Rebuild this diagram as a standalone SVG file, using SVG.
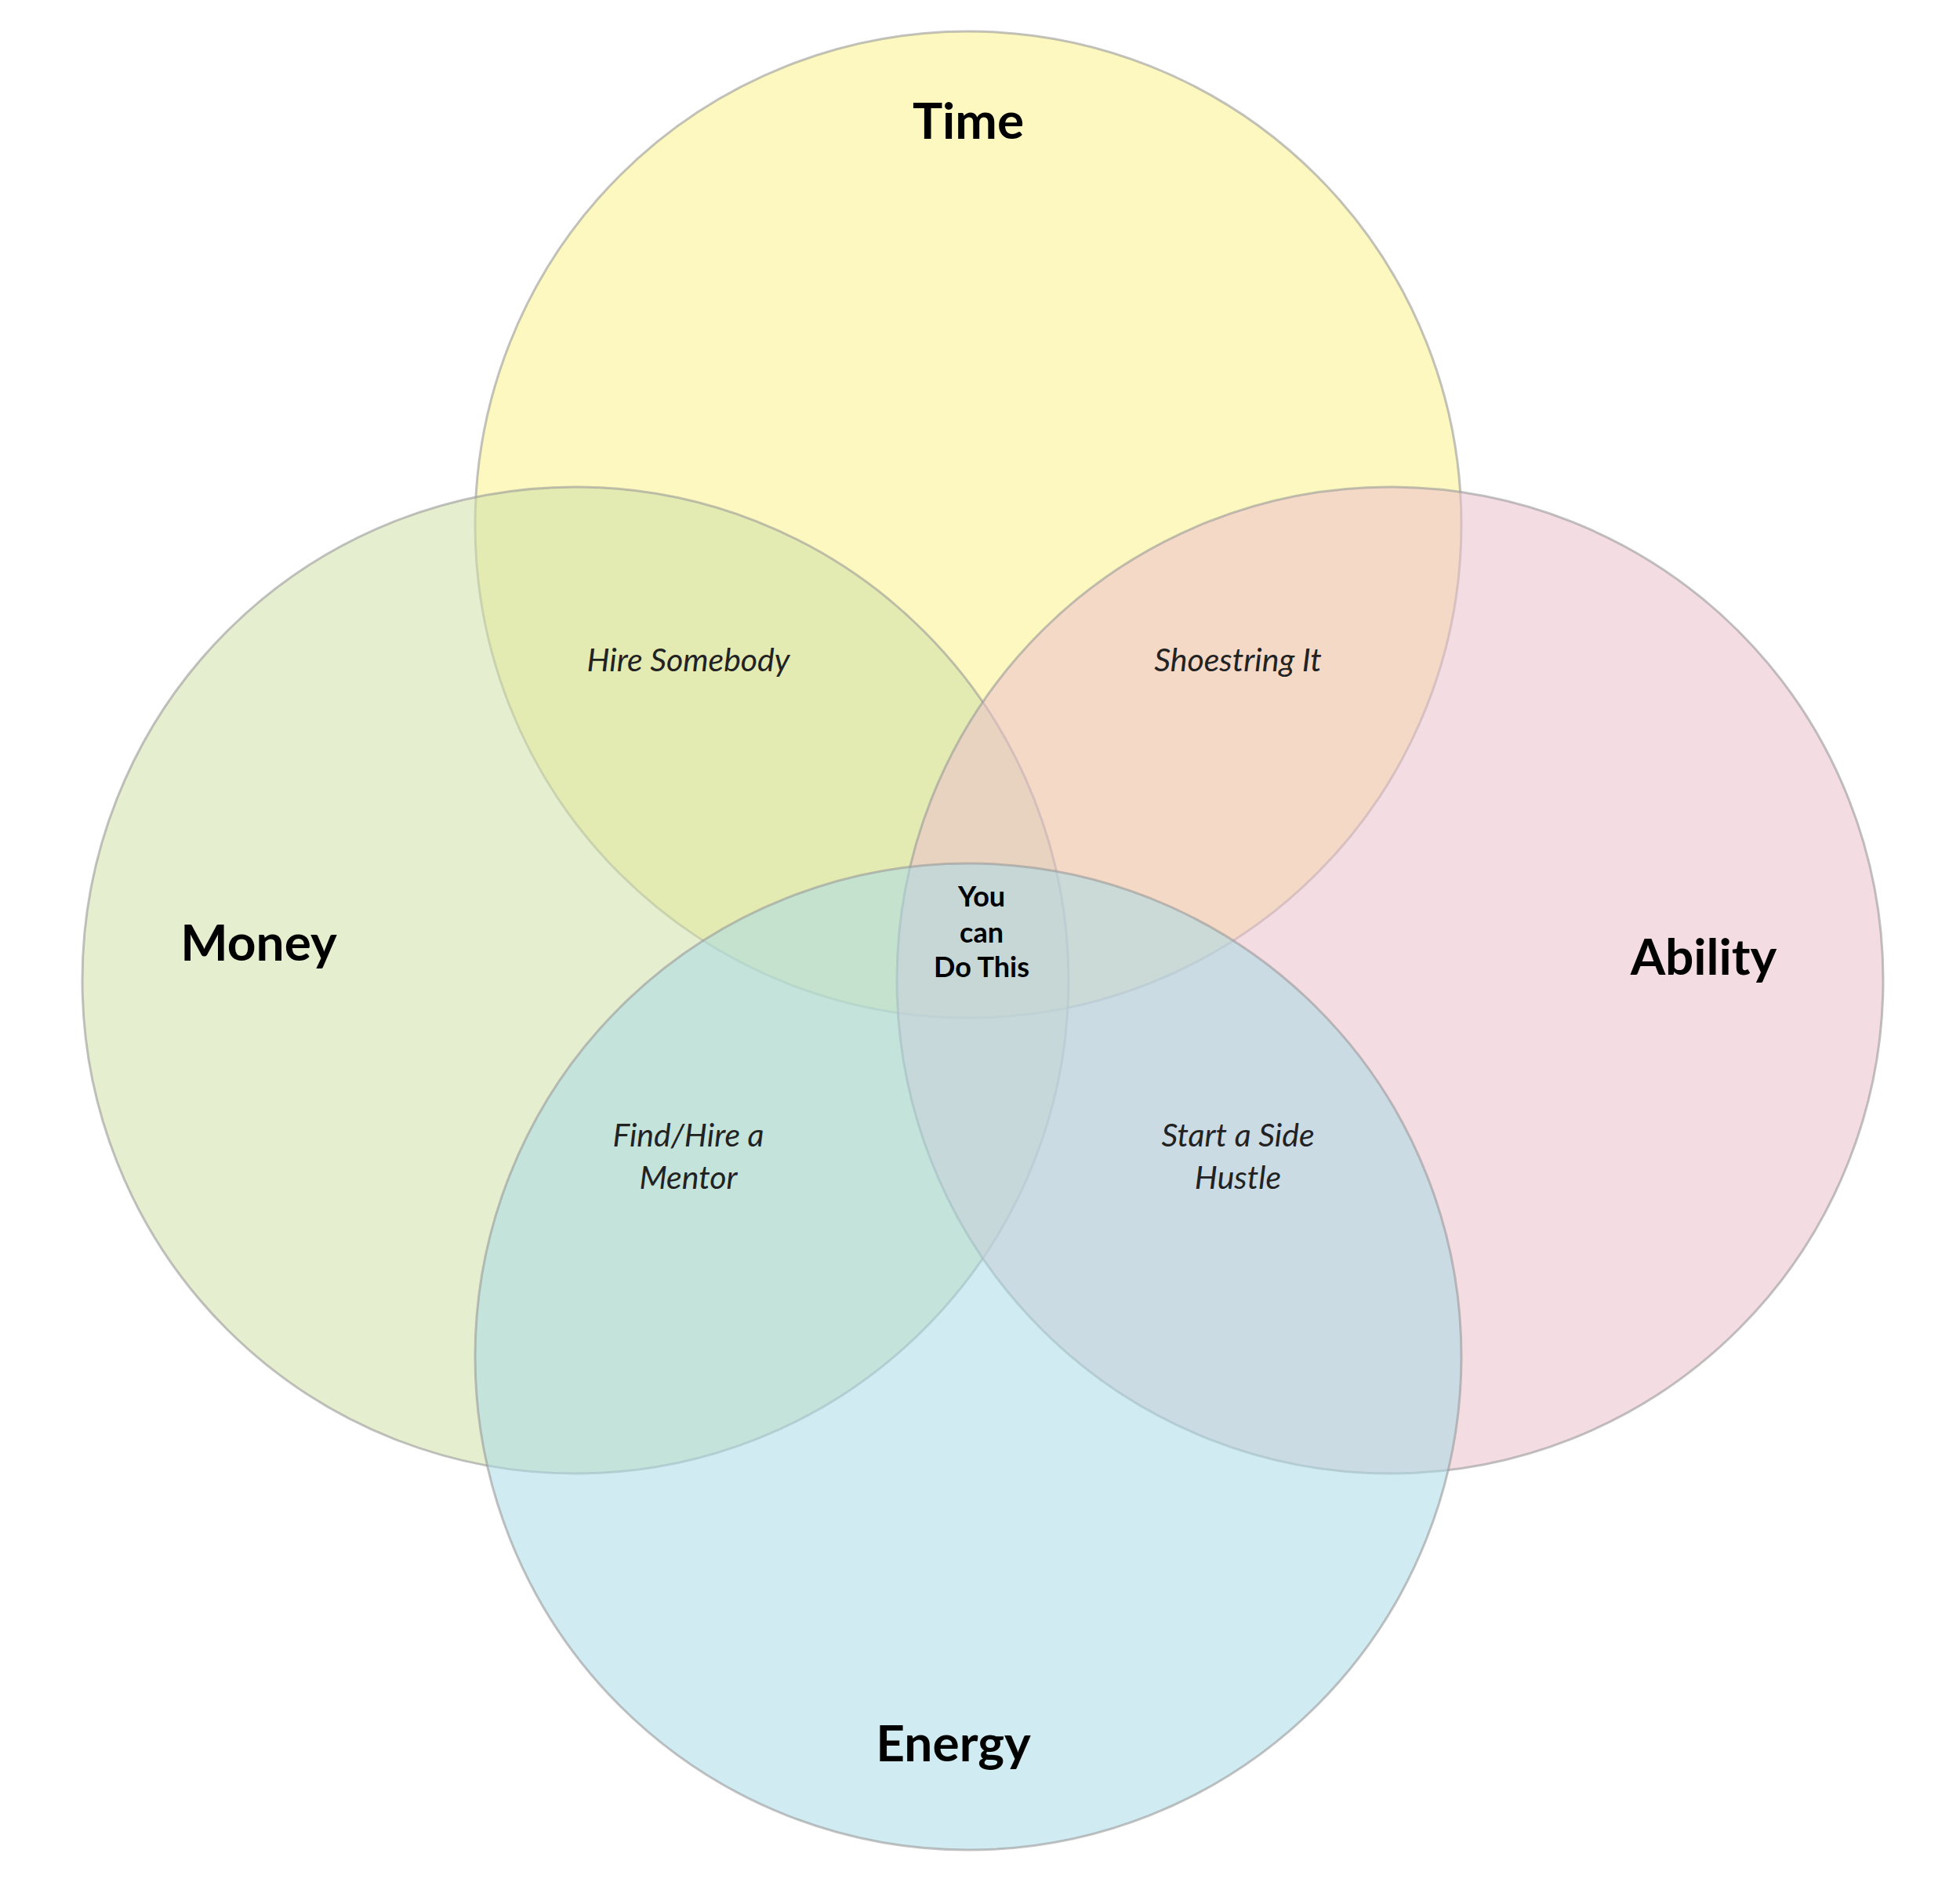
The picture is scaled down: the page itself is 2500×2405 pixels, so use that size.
<svg xmlns="http://www.w3.org/2000/svg" width="2500" height="2405" viewBox="0 0 2500 2405">
<style>
.c{stroke:#999;stroke-width:3;stroke-opacity:0.6;fill-opacity:0.55}
.t{font-family:Lato,"Open Sans",sans-serif;font-weight:bold;font-size:64px;text-anchor:middle;fill:#000}
.i{font-family:Lato,"Open Sans",sans-serif;font-style:italic;font-size:41px;text-anchor:middle;fill:#222}
.m{font-family:Lato,"Open Sans",sans-serif;font-weight:bold;font-size:36px;text-anchor:middle;fill:#000}
</style>
<rect width="2500" height="2405" fill="#fff"/>
<g id="time"><circle class="c" cx="1235" cy="669" r="629" fill="#faf38a"/><text class="t" x="1235" y="177">Time</text></g>
<g id="money"><circle class="c" cx="734" cy="1250" r="629" fill="#cfe0a8"/><text class="t" x="330" y="1225">Money</text></g>
<g id="ability"><circle class="c" cx="1773" cy="1250" r="629" fill="#ebbfcc"/><text class="t" x="2173" y="1243">Ability</text></g>
<g id="energy"><circle class="c" cx="1235" cy="1730" r="629" fill="#a9dbe6"/><text class="t" x="1216" y="2246">Energy</text></g>
<g id="labels">
<text class="i" x="878" y="856">Hire Somebody</text>
<text class="i" x="1579" y="856">Shoestring It</text>
<text class="i" x="878" y="1462">Find/Hire a</text>
<text class="i" x="878" y="1516">Mentor</text>
<text class="i" x="1579" y="1462">Start a Side</text>
<text class="i" x="1579" y="1516">Hustle</text>
<text class="m" x="1252" y="1156">You</text>
<text class="m" x="1252" y="1202">can</text>
<text class="m" x="1252" y="1246">Do This</text>
</g>
<g id="connectors"></g>
</svg>
